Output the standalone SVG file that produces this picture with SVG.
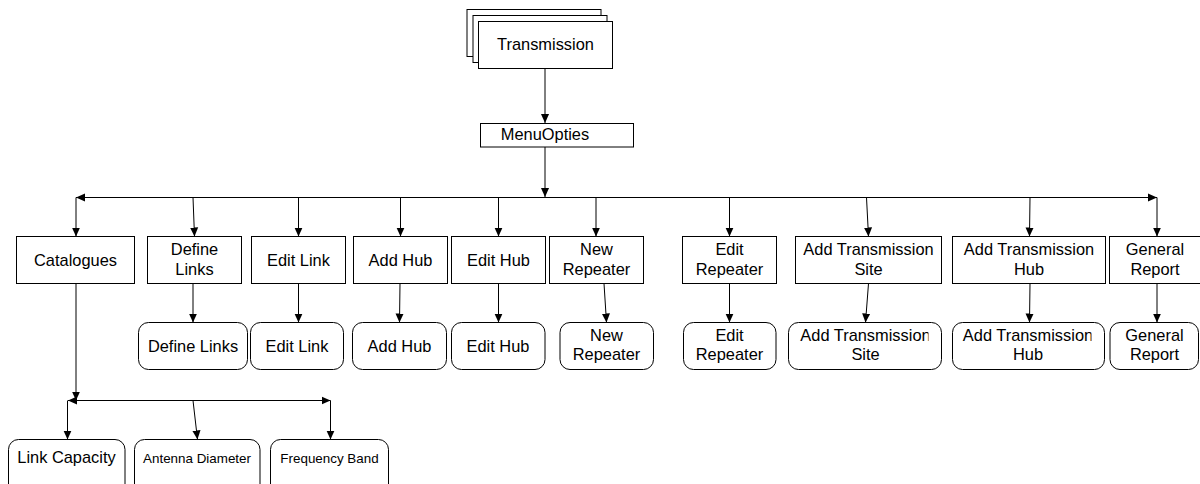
<svg xmlns="http://www.w3.org/2000/svg" width="1200" height="484" viewBox="0 0 1200 484">
  <defs>
    <style>
      .box { fill: #ffffff; stroke: #000000; stroke-width: 1; }
      .lbl { font-family: "Liberation Sans", Arial, sans-serif; font-size: 16.4px; fill: #000000; text-anchor: middle; }
      .sm { font-size: 13.4px; }
      .edge { fill: none; stroke: #000000; stroke-width: 1; }
    </style>
    <marker id="arrow" viewBox="0 0 10 10" refX="10" refY="5" markerWidth="9" markerHeight="9" markerUnits="userSpaceOnUse" orient="auto-start-reverse">
      <path d="M0,0.5 L10,5 L0,9.5 Z" fill="#000000"/>
    </marker>
    <clipPath id="clipSite"><rect x="780" y="320" width="148.5" height="55"/></clipPath>
    <clipPath id="clipHub"><rect x="945" y="320" width="146.5" height="55"/></clipPath>
  </defs>

  <rect x="0" y="0" width="1200" height="484" fill="#ffffff"/>

  <!-- connectors -->
  <g id="connectors">
    <path class="edge" d="M545,68.5 L545,123" marker-end="url(#arrow)"/>
    <path class="edge" d="M545,147 L545,197" marker-end="url(#arrow)"/>
    <path class="edge" d="M76,197.5 L1157,197.5" marker-start="url(#arrow)" marker-end="url(#arrow)"/>

    <!-- menu bar to first-level items -->
    <path class="edge" d="M76,197.5 L76,236.5" marker-end="url(#arrow)"/>
    <path class="edge" d="M193,197.5 L194.5,236.5" marker-end="url(#arrow)"/>
    <path class="edge" d="M298.5,197.5 L298.5,236.5" marker-end="url(#arrow)"/>
    <path class="edge" d="M400.5,197.5 L400.5,236.5" marker-end="url(#arrow)"/>
    <path class="edge" d="M498.5,197.5 L498.5,236.5" marker-end="url(#arrow)"/>
    <path class="edge" d="M596,197.5 L596,236.5" marker-end="url(#arrow)"/>
    <path class="edge" d="M729.5,197.5 L729.5,236.5" marker-end="url(#arrow)"/>
    <path class="edge" d="M866.5,197.5 L868.5,236.5" marker-end="url(#arrow)"/>
    <path class="edge" d="M1030,197.5 L1029.5,236.5" marker-end="url(#arrow)"/>
    <path class="edge" d="M1157,197.5 L1157,236.5" marker-end="url(#arrow)"/>

    <!-- first-level items to screens -->
    <path class="edge" d="M193,283.5 L193,322.5" marker-end="url(#arrow)"/>
    <path class="edge" d="M298.5,283.5 L298.5,322.5" marker-end="url(#arrow)"/>
    <path class="edge" d="M400,283.5 L399.5,322.5" marker-end="url(#arrow)"/>
    <path class="edge" d="M498.5,283.5 L498.5,322.5" marker-end="url(#arrow)"/>
    <path class="edge" d="M604,283.5 L606.5,322.5" marker-end="url(#arrow)"/>
    <path class="edge" d="M729.5,283.5 L729.5,322.5" marker-end="url(#arrow)"/>
    <path class="edge" d="M868.5,283.5 L865.5,322.5" marker-end="url(#arrow)"/>
    <path class="edge" d="M1030,283.5 L1029.5,322.5" marker-end="url(#arrow)"/>
    <path class="edge" d="M1157,283.5 L1157,322.5" marker-end="url(#arrow)"/>

    <!-- catalogues branch -->
    <path class="edge" d="M76,283.5 L76,400.5" marker-end="url(#arrow)"/>
    <path class="edge" d="M68,400.5 L330.5,400.5" marker-start="url(#arrow)" marker-end="url(#arrow)"/>
    <path class="edge" d="M67.5,400.5 L67.5,439.5" marker-end="url(#arrow)"/>
    <path class="edge" d="M193,400.5 L197.5,439.5" marker-end="url(#arrow)"/>
    <path class="edge" d="M330.5,400.5 L330.5,439.5" marker-end="url(#arrow)"/>
  </g>

  <!-- top -->
  <g id="transmission">
    <rect class="box" x="467" y="9.5" width="134" height="47"/>
    <rect class="box" x="473" y="15.5" width="134" height="47"/>
    <rect class="box" x="478.5" y="21.5" width="134" height="47"/>
    <text class="lbl" x="545.5" y="50">Transmission</text>
  </g>
  <g id="menuopties">
    <rect class="box" x="480.5" y="123.5" width="153" height="23.5"/>
    <text class="lbl" x="545" y="140">MenuOpties</text>
  </g>

  <!-- first level -->
  <g id="catalogues">
    <rect class="box" x="16.5" y="236.5" width="118" height="47"/>
    <text class="lbl" x="75.5" y="266">Catalogues</text>
  </g>
  <g id="define-links">
    <rect class="box" x="147.5" y="236.5" width="94" height="47"/>
    <text class="lbl" x="194.5" y="255">Define</text>
    <text class="lbl" x="194.5" y="274.5">Links</text>
  </g>
  <g id="edit-link">
    <rect class="box" x="251.5" y="236.5" width="94" height="47"/>
    <text class="lbl" x="298.5" y="266">Edit Link</text>
  </g>
  <g id="add-hub">
    <rect class="box" x="353.5" y="236.5" width="94" height="47"/>
    <text class="lbl" x="400.5" y="266">Add Hub</text>
  </g>
  <g id="edit-hub">
    <rect class="box" x="451.5" y="236.5" width="94" height="47"/>
    <text class="lbl" x="498.5" y="266">Edit Hub</text>
  </g>
  <g id="new-repeater">
    <rect class="box" x="549.5" y="236.5" width="94" height="47"/>
    <text class="lbl" x="596.5" y="255">New</text>
    <text class="lbl" x="596.5" y="274.5">Repeater</text>
  </g>
  <g id="edit-repeater">
    <rect class="box" x="682.5" y="236.5" width="94" height="47"/>
    <text class="lbl" x="729.5" y="255">Edit</text>
    <text class="lbl" x="729.5" y="274.5">Repeater</text>
  </g>
  <g id="add-transmission-site">
    <rect class="box" x="795.5" y="236.5" width="146" height="47"/>
    <text class="lbl" x="868.5" y="255">Add Transmission</text>
    <text class="lbl" x="868.5" y="274.5">Site</text>
  </g>
  <g id="add-transmission-hub">
    <rect class="box" x="952.5" y="236.5" width="153" height="47"/>
    <text class="lbl" x="1029" y="255">Add Transmission</text>
    <text class="lbl" x="1029" y="274.5">Hub</text>
  </g>
  <g id="general-report">
    <rect class="box" x="1109.5" y="236.5" width="92" height="47"/>
    <text class="lbl" x="1155" y="255">General</text>
    <text class="lbl" x="1155" y="274.5">Report</text>
  </g>

  <!-- screens -->
  <g id="screen-define-links">
    <rect class="box" x="138.5" y="322.5" width="109" height="47" rx="10"/>
    <text class="lbl" x="193" y="352">Define Links</text>
  </g>
  <g id="screen-edit-link">
    <rect class="box" x="250.5" y="322.5" width="93" height="47" rx="10"/>
    <text class="lbl" x="297" y="352">Edit Link</text>
  </g>
  <g id="screen-add-hub">
    <rect class="box" x="352.5" y="322.5" width="94" height="47" rx="10"/>
    <text class="lbl" x="399.5" y="352">Add Hub</text>
  </g>
  <g id="screen-edit-hub">
    <rect class="box" x="451.5" y="322.5" width="93.5" height="47" rx="10"/>
    <text class="lbl" x="498" y="352">Edit Hub</text>
  </g>
  <g id="screen-new-repeater">
    <rect class="box" x="560" y="322.5" width="93.5" height="47" rx="10"/>
    <text class="lbl" x="606.5" y="341">New</text>
    <text class="lbl" x="606.5" y="360">Repeater</text>
  </g>
  <g id="screen-edit-repeater">
    <rect class="box" x="683.5" y="322.5" width="92.5" height="47" rx="10"/>
    <text class="lbl" x="729.5" y="341">Edit</text>
    <text class="lbl" x="729.5" y="360">Repeater</text>
  </g>
  <g id="screen-add-transmission-site">
    <rect class="box" x="788.5" y="322.5" width="153" height="47" rx="10"/>
    <text class="lbl" x="865.5" y="341" clip-path="url(#clipSite)">Add Transmission</text>
    <text class="lbl" x="865.5" y="360">Site</text>
  </g>
  <g id="screen-add-transmission-hub">
    <rect class="box" x="952.5" y="322.5" width="152" height="47" rx="10"/>
    <text class="lbl" x="1028" y="341" clip-path="url(#clipHub)">Add Transmission</text>
    <text class="lbl" x="1028" y="360">Hub</text>
  </g>
  <g id="screen-general-report">
    <rect class="box" x="1110" y="322.5" width="88.5" height="47" rx="10"/>
    <text class="lbl" x="1154.5" y="341">General</text>
    <text class="lbl" x="1154.5" y="360">Report</text>
  </g>

  <!-- catalogue screens -->
  <g id="link-capacity">
    <rect class="box" x="8.5" y="439.5" width="116.5" height="56" rx="10"/>
    <text class="lbl" x="66.5" y="462.5">Link Capacity</text>
  </g>
  <g id="antenna-diameter">
    <rect class="box" x="134.5" y="439.5" width="125.5" height="56" rx="10"/>
    <text class="lbl sm" x="197" y="462.5">Antenna Diameter</text>
  </g>
  <g id="frequency-band">
    <rect class="box" x="270.5" y="439.5" width="118" height="56" rx="10"/>
    <text class="lbl sm" x="329.5" y="462.5">Frequency Band</text>
  </g>
</svg>
